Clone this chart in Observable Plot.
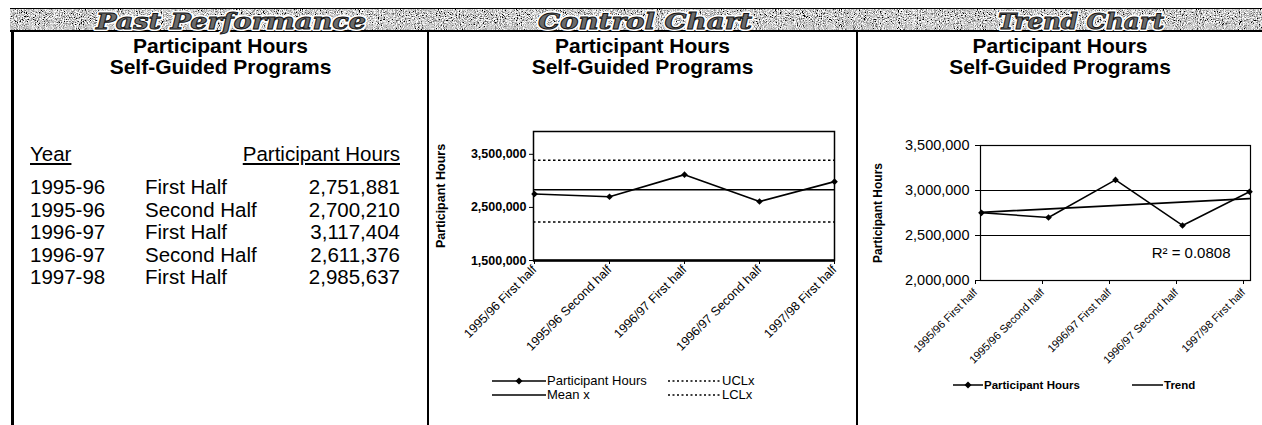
<!DOCTYPE html>
<html><head><meta charset="utf-8">
<script src="https://cdn.jsdelivr.net/npm/d3@7"></script>
<script src="https://cdn.jsdelivr.net/npm/@observablehq/plot@0.6"></script>
<style>
body{margin:0;width:1262px;height:425px;background:#fff;position:relative;overflow:hidden;font-family:"Liberation Sans",Arial,sans-serif;color:#000;}
.abs{position:absolute;}
.vline{position:absolute;top:31px;height:394px;background:#000;}
.title{position:absolute;font-weight:bold;font-size:21px;line-height:21px;text-align:center;white-space:nowrap;}
.cell{position:absolute;font-size:20.5px;line-height:22px;white-space:nowrap;}
.leg{position:absolute;font-size:13px;line-height:14px;white-space:nowrap;display:flex;align-items:center;}
.leg svg{display:block;}
</style></head>
<body>
<div id="banner" class="abs" style="left:10px;top:8px;width:1252px;height:24px;">
<svg width="1252" height="24" style="position:absolute;left:0;top:0">
<defs><filter id="nz" x="0" y="0" width="100%" height="100%">
<feTurbulence type="fractalNoise" baseFrequency="0.95" numOctaves="2" seed="3"/>
<feColorMatrix type="matrix" values="1.4 1.4 1.4 0 -1.5  1.4 1.4 1.4 0 -1.5  1.4 1.4 1.4 0 -1.5  0 0 0 0 1"/>
</filter></defs>
<rect x="0" y="0" width="1252" height="24" filter="url(#nz)"/>
<line x1="0" y1="0.5" x2="1252" y2="0.5" stroke="#000" stroke-width="1.2"/>
<line x1="0" y1="23" x2="1252" y2="23" stroke="#000" stroke-width="2"/>
</svg>
<svg width="1252" height="26" style="position:absolute;left:0;top:0;overflow:visible">
<g font-family="'DejaVu Serif','Liberation Serif',serif" font-style="italic" font-weight="bold" font-size="23">
<g stroke="#fff" stroke-width="4" fill="#fff" stroke-linejoin="round">
<text x="86" y="21" textLength="270" lengthAdjust="spacingAndGlyphs">Past Performance</text>
<text x="528" y="21" textLength="214" lengthAdjust="spacingAndGlyphs">Control Chart</text>
<text x="988" y="21" textLength="166" lengthAdjust="spacingAndGlyphs">Trend Chart</text>
</g>
<g stroke="#111" stroke-width="0.9" fill="#6b6b6b">
<text x="86" y="21" textLength="270" lengthAdjust="spacingAndGlyphs">Past Performance</text>
<text x="528" y="21" textLength="214" lengthAdjust="spacingAndGlyphs">Control Chart</text>
<text x="988" y="21" textLength="166" lengthAdjust="spacingAndGlyphs">Trend Chart</text>
</g>
</g>
</svg>
</div>
<div class="vline" style="left:11px;width:3px;"></div>
<div class="vline" style="left:427px;width:2px;"></div>
<div class="vline" style="left:856px;width:2px;"></div>

<div class="title" style="left:14px;width:413px;top:35px;">Participant Hours<br>Self-Guided Programs</div>
<div class="title" style="left:429px;width:427px;top:35px;">Participant Hours<br>Self-Guided Programs</div>
<div class="title" style="left:858px;width:404px;top:35px;">Participant Hours<br>Self-Guided Programs</div>

<div id="table"></div>
<div id="control" class="abs" style="left:430px;top:120px;"></div>
<div id="trend" class="abs" style="left:862px;top:135px;"></div>

<div class="leg" style="left:492px;top:374px;">
<svg width="55" height="14"><line x1="0" y1="7" x2="54" y2="7" stroke="#000" stroke-width="1.3"/><path d="M27,3.5L30.5,7L27,10.5L23.5,7Z" fill="#000"/></svg>Participant Hours</div>
<div class="leg" style="left:668px;top:374px;">
<svg width="54" height="14"><line x1="0" y1="7" x2="53" y2="7" stroke="#000" stroke-width="1.3" stroke-dasharray="2,2.5"/></svg>UCLx</div>
<div class="leg" style="left:492px;top:388px;">
<svg width="55" height="14"><line x1="0" y1="7" x2="54" y2="7" stroke="#000" stroke-width="1.5"/></svg>Mean x</div>
<div class="leg" style="left:668px;top:388px;">
<svg width="54" height="14"><line x1="0" y1="7" x2="53" y2="7" stroke="#000" stroke-width="1.3" stroke-dasharray="2,2.5"/></svg>LCLx</div>

<div class="leg" style="left:953px;top:378px;font-size:11.5px;font-weight:bold;">
<svg width="31" height="14"><line x1="0" y1="7" x2="30" y2="7" stroke="#000" stroke-width="1.5"/><path d="M15,3.5L18.5,7L15,10.5L11.5,7Z" fill="#000"/></svg>Participant Hours</div>
<div class="leg" style="left:1132px;top:378px;font-size:11.5px;font-weight:bold;">
<svg width="32" height="14"><line x1="0" y1="7" x2="31" y2="7" stroke="#000" stroke-width="1.5"/></svg>Trend</div>

<script>
// ---- data ----
const periodLabels = ["1995/96 First half", "1995/96 Second half", "1996/97 First half", "1996/97 Second half", "1997/98 First half"];
const tableYears = ["1995-96", "1995-96", "1996-97", "1996-97", "1997-98"];
const tableHalves = ["First Half", "Second Half", "First Half", "Second Half", "First Half"];
const participantHours = [2751881, 2700210, 3117404, 2611376, 2985637];
const meanX = 2833302;
const uclX = 3390000;
const lclX = 2225000;
const trendEnds = [2757566, 2909038];
const rSquared = "0.0808";
const controlTicks = [1500000, 2500000, 3500000];
const trendTicks = [2000000, 2500000, 3000000, 3500000];
const tableHeaders = ["Year", "Participant Hours"];

const fmt = d3.format(",");

// ---- table (Past Performance) ----
const tbl = document.getElementById("table");
function cell(text, left, top, opts = {}) {
  const d = document.createElement("div");
  d.className = "cell";
  d.textContent = text;
  d.style.top = top + "px";
  if (opts.right != null) { d.style.right = (1262 - opts.right) + "px"; } else { d.style.left = left + "px"; }
  if (opts.underline) d.style.textDecoration = "underline";
  tbl.appendChild(d);
}
cell(tableHeaders[0], 30, 143, {underline: true});
cell(tableHeaders[1], null, 143, {underline: true, right: 400});
participantHours.forEach((v, i) => {
  const top = 176 + i * 22.5;
  cell(tableYears[i], 30, top);
  cell(tableHalves[i], 145, top);
  cell(fmt(v), null, top, {right: 400});
});

// ---- control chart ----
const rows = periodLabels.map((p, i) => ({period: p, hours: participantHours[i]}));
const baseStyle = {fontFamily: "'Liberation Sans', Arial, sans-serif", fontSize: "10px", background: "transparent", overflow: "visible", color: "#000"};

const control = Plot.plot({
  width: 420, height: 250,
  marginLeft: 103, marginRight: 16, marginTop: 11, marginBottom: 110,
  style: baseStyle,
  x: {type: "point", domain: periodLabels, padding: 0},
  y: {domain: [1500000, 3930000]},
  marks: [
    Plot.ruleY([uclX, lclX], {stroke: "#000", strokeWidth: 1.5, strokeDasharray: "2.5,2.5"}),
    Plot.ruleY([meanX], {stroke: "#000", strokeWidth: 1.5}),
    Plot.line(rows, {x: "period", y: "hours", stroke: "#000", strokeWidth: 1.6}),
    Plot.dot(rows, {x: "period", y: "hours", symbol: "diamond2", r: 3, fill: "#000", stroke: "none"}),
    Plot.frame({stroke: "#000", strokeWidth: 1.5}),
    Plot.ruleY([1500000], {stroke: "#000", strokeWidth: 2.5}),
    Plot.axisY({ticks: controlTicks, tickFormat: fmt, tickSize: 4, tickPadding: 3, fontSize: 12.5, fontWeight: "bold", label: null}),
    Plot.axisX({tickRotate: -45, tickSize: 4, tickPadding: 3, fontSize: 12.5, label: null}),
    Plot.text(["Participant Hours"], {frameAnchor: "left", rotate: -90, dx: -93, textAnchor: "middle", fontSize: 12.5, fontWeight: "bold"})
  ]
});
document.getElementById("control").appendChild(control);

// ---- trend chart ----
const trendRows = [
  {period: periodLabels[0], value: trendEnds[0]},
  {period: periodLabels[periodLabels.length - 1], value: trendEnds[1]}
];
const trend = Plot.plot({
  width: 400, height: 240,
  marginLeft: 118, marginRight: 12, marginTop: 10, marginBottom: 95,
  style: baseStyle,
  x: {type: "point", domain: periodLabels, padding: 0},
  y: {domain: [2000000, 3500000]},
  marks: [
    Plot.ruleY([2500000, 3000000], {stroke: "#000", strokeWidth: 1}),
    Plot.line(trendRows, {x: "period", y: "value", stroke: "#000", strokeWidth: 1.8}),
    Plot.line(rows, {x: "period", y: "hours", stroke: "#000", strokeWidth: 1.5}),
    Plot.dot(rows, {x: "period", y: "hours", symbol: "diamond2", r: 3, fill: "#000", stroke: "none"}),
    Plot.frame({stroke: "#000", strokeWidth: 1.2}),
    Plot.axisY({ticks: trendTicks, tickFormat: fmt, tickSize: 5, tickPadding: 6, fontSize: 14.5, label: null}),
    Plot.axisX({tickRotate: -45, tickSize: 4, tickPadding: 6, dx: -6, fontSize: 11, label: null}),
    Plot.text(["Participant Hours"], {frameAnchor: "left", rotate: -90, dx: -102, textAnchor: "middle", fontSize: 12, fontWeight: "bold"}),
    Plot.text([`R\u00B2 = ${rSquared}`], {frameAnchor: "bottom-right", dx: -20, dy: -23, textAnchor: "end", fontSize: 15})
  ]
});
document.getElementById("trend").appendChild(trend);
</script>
</body></html>
